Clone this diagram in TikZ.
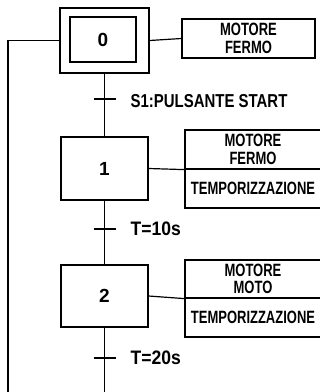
\documentclass[tikz,border=0pt]{standalone}
\usepackage{fontspec}
\setmainfont{Liberation Sans}
\newfontfamily\actfont[FakeStretch=0.73]{Liberation Sans}
\newfontfamily\labfont[FakeStretch=0.8]{Liberation Sans}
\newfontfamily\tfont[FakeStretch=0.9]{Liberation Sans}
\begin{document}
\begin{tikzpicture}[x=1pt,y=-1pt,line width=1.2pt,
  stepbox/.style={draw,rectangle,inner sep=0pt,font=\bfseries\fontsize{19}{21}\selectfont},
  actbox/.style={draw,rectangle,inner sep=0pt,align=center,font=\actfont\bfseries\fontsize{17.8}{17.5}\selectfont},
  translab/.style={anchor=west,inner sep=0pt,font=\labfont\bfseries\fontsize{18.7}{20}\selectfont},
  tlab/.style={anchor=west,inner sep=0pt,font=\tfont\bfseries\fontsize{19.5}{21}\selectfont}]
\useasboundingbox (0,0) rectangle (320,392);
\clip (0,0) rectangle (320,392);
% step 0
\node[stepbox,minimum width=89pt,minimum height=65pt] (s0) at (104.5,40.5) {};
\node[stepbox,minimum width=66pt,minimum height=45pt] (s0i) at (103,39.5) {0};
\node[actbox,minimum width=133pt,minimum height=39pt] (a0) at (248.5,38.5) {MOTORE\\FERMO};
% step 1
\node[stepbox,minimum width=87pt,minimum height=63pt] (s1) at (104.5,168.5) {1};
\node[actbox,minimum width=136pt,minimum height=39pt] (a1t) at (253,149.5) {MOTORE\\FERMO};
\node[actbox,minimum width=136pt,minimum height=39pt] (a1b) at (253,188.5) {TEMPORIZZAZIONE};
% step 2
\node[stepbox,minimum width=87pt,minimum height=62pt] (s2) at (104.5,296) {2};
\node[actbox,minimum width=136pt,minimum height=38pt] (a2t) at (253,279) {MOTORE\\MOTO};
\node[actbox,minimum width=136pt,minimum height=39pt] (a2b) at (253,317.5) {TEMPORIZZAZIONE};
% action links
\draw (s0.east) -- (a0.west);
\draw (s1.east) -- (a1t.south west);
\draw (s2.east) -- (a2t.south west);
% transitions
\coordinate (t1) at (104.5,99);
\coordinate (t2) at (104.5,229);
\coordinate (t3) at (104.5,358);
\coordinate (bot) at (104.5,393);
\coordinate (lb) at (8,393);
\coordinate (lt) at (8,40.5);
\draw (s0.south) -- (s1.north);
\draw (s1.south) -- (s2.north);
\draw (s2.south) -- (bot);
\draw ([xshift=-11pt]t1) -- ([xshift=11pt]t1);
\draw ([xshift=-11pt]t2) -- ([xshift=11pt]t2);
\draw ([xshift=-11pt]t3) -- ([xshift=11pt]t3);
\node[translab] (l1) at (130,101) {S1:PULSANTE START};
\node[tlab] (l2) at (130,229) {T=10s};
\node[tlab] (l3) at (130,358) {T=20s};
% loop back
\draw (lb) -- (lt) -- (s0.west);
\end{tikzpicture}
\end{document}
